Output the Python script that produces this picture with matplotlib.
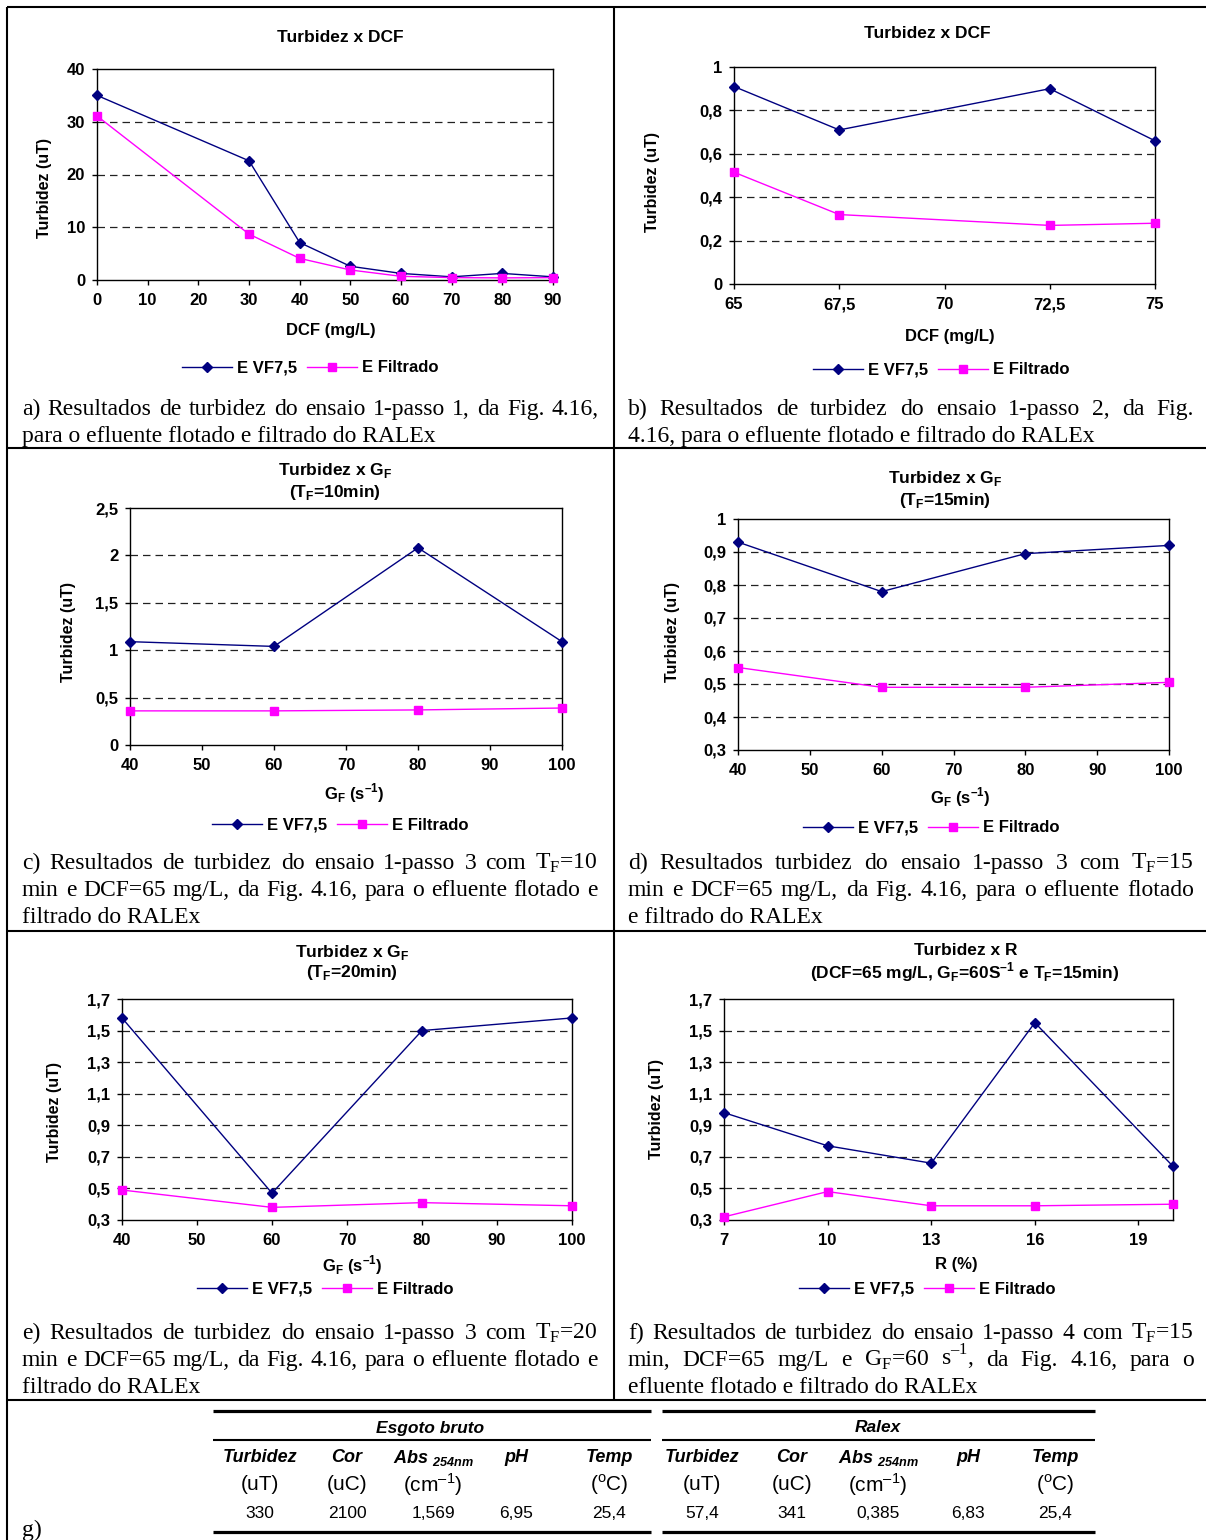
import matplotlib
matplotlib.use("Agg")
import matplotlib.pyplot as plt
import numpy as np
from matplotlib.lines import Line2D
from matplotlib.ticker import FuncFormatter

SANS = "Liberation Sans"
SERIF = "Liberation Serif"
NAVY = "#000080"
MAGENTA = "#FF00FF"

plt.rcParams.update({
    "font.family": SANS,
    "font.weight": "bold",
    "mathtext.fontset": "custom",
    "mathtext.rm": "Liberation Serif:weight=normal",
    "mathtext.bf": "Liberation Sans:weight=bold",
    "mathtext.sf": "Liberation Sans:italic:weight=bold",
    "mathtext.tt": "Liberation Sans:weight=normal",
})

# ensaio 1 - passo 1 (DCF)
dcf_a = [0, 30, 40, 50, 60, 70, 80, 90]
evf_a = [35.0, 22.6, 7.1, 2.6, 1.25, 0.6, 1.25, 0.6]
filt_a = [31.1, 8.7, 4.1, 1.9, 0.7, 0.45, 0.4, 0.45]

# ensaio 1 - passo 2 (DCF)
dcf_b = [65, 67.5, 72.5, 75]
evf_b = [0.91, 0.71, 0.90, 0.66]
filt_b = [0.515, 0.32, 0.27, 0.28]

# ensaio 1 - passo 3 (G_F) for T_F = 10, 15 and 20 min
gf = [40, 60, 80, 100]
evf_c = [1.09, 1.04, 2.08, 1.09]
filt_c = [0.36, 0.36, 0.37, 0.39]
evf_d = [0.93, 0.78, 0.895, 0.92]
filt_d = [0.55, 0.49, 0.49, 0.505]
evf_e = [1.58, 0.47, 1.50, 1.58]
filt_e = [0.49, 0.38, 0.41, 0.39]

# ensaio 1 - passo 4 (R)
r_pct = [7, 10, 13, 16, 20]
evf_f = [0.98, 0.77, 0.66, 1.55, 0.64]
filt_f = [0.32, 0.48, 0.39, 0.39, 0.40]

# characterisation table
col_heads = ["Turbidez", "Cor", r"Abs $_\mathsf{254nm}$", "pH", "Temp"]
col_units = ["(uT)", "(uC)", "(cm$^{\\mathtt{\u2013}\\mathtt{1}}$)", "",
             r"($^{\mathtt{o}}$C)"]
esgoto_vals = ["330", "2100", "1,569", "6,95", "25,4"]
ralex_vals = ["57,4", "341", "0,385", "6,83", "25,4"]

W, H = 1206, 1540
fig = plt.figure(figsize=(W / 100, H / 100), dpi=100)

SUP_BF = "$^{\\mathbf{\u2013}\\mathbf{1}}$"
SUP_RM = "$^{\\mathrm{\u2013}\\mathrm{1}}$"


def fx(x):
    return x / W


def fy(y):
    return 1 - y / H


def ftext(x, y, s, **kw):
    return fig.text(fx(x), fy(y), s, **kw)


def fline(x0, y0, x1, y1, lw=1.5):
    fig.add_artist(Line2D([fx(x0), fx(x1)], [fy(y0), fy(y1)], color="black",
                          lw=lw, transform=fig.transFigure, solid_capstyle="butt"))


def comma(v, pos):
    return ("%g" % round(v, 3)).replace(".", ",")


def panel(box, x, evf, filt, xlim, xticks, ylim, yticks, legend_xy):
    l, r, t, b = box
    ax = fig.add_axes([fx(l), fy(b), (r - l) / W, (b - t) / H])
    for v in yticks[1:-1]:
        ax.axhline(v, color="#222222", lw=0.9, ls=(0, (6, 4)), zorder=1)
    ax.plot(x, evf, color=NAVY, lw=1, marker="D", ms=4.8, zorder=3,
            clip_on=False, label="E VF7,5")
    ax.plot(x, filt, color=MAGENTA, lw=1, marker="s", ms=6, zorder=3,
            clip_on=False, label="E Filtrado")
    ax.set_xlim(xlim)
    ax.set_ylim(ylim)
    ax.set_xticks(xticks)
    ax.set_yticks(yticks)
    ax.xaxis.set_major_formatter(FuncFormatter(comma))
    ax.yaxis.set_major_formatter(FuncFormatter(comma))
    ax.tick_params(direction="out", length=3.5, width=1, pad=5,
                   labelsize=12, colors="black")
    ax.tick_params(axis="x", pad=6)
    for sp in ax.spines.values():
        sp.set_linewidth(1)
        sp.set_color("black")
    ax.legend(loc="center", bbox_to_anchor=(fx(legend_xy[0]), fy(legend_xy[1])),
              bbox_transform=fig.transFigure, ncol=2, frameon=False,
              handlelength=3.0, handletextpad=0.3, columnspacing=0.6,
              borderaxespad=0, borderpad=0,
              prop=dict(family=SANS, weight="bold", size=12))
    return ax


def caption(lines, x0, x1, y0, step=27, size=17):
    rend = fig.canvas.get_renderer()
    kw = dict(family=SERIF, weight="normal", size=size, va="baseline")
    for i, line in enumerate(lines):
        y = y0 + i * step
        if i == len(lines) - 1:
            ftext(x0, y, line, **kw)
            continue
        words = line.split(" ")
        texts = [ftext(x0, y, w, **kw) for w in words]
        widths = [t.get_window_extent(rend).width for t in texts]
        gap = (x1 - x0 - sum(widths)) / (len(words) - 1)
        xpos = x0
        for t, w in zip(texts, widths):
            t.set_x(fx(xpos))
            xpos += w + gap


title_kw = dict(family=SANS, weight="bold", size=12.5, ha="center", va="center")
label_kw = dict(family=SANS, weight="bold", size=12, ha="center", va="center")
ylab_kw = dict(family=SANS, weight="bold", size=11.5, ha="center", va="center",
               rotation=90)
gf_label = r"G$_\mathbf{F}$ (s" + SUP_BF + ")"

# a) Turbidez x DCF, passo 1
panel((97, 553, 69, 280), dcf_a, evf_a, filt_a, (0, 90), np.arange(0, 91, 10),
      (0, 40), np.arange(0, 41, 10), (310, 368))
ftext(340, 37, "Turbidez x DCF", **title_kw)
ftext(331, 331, "DCF (mg/L)", **label_kw)
ftext(45, 188, "Turbidez (uT)", **ylab_kw)
caption(["a) Resultados de turbidez do ensaio 1-passo 1, da Fig. 4.16,",
         "para o efluente flotado e filtrado do RALEx"], 22, 599, 415)

# b) Turbidez x DCF, passo 2
panel((734, 1155, 67, 284), dcf_b, evf_b, filt_b, (65, 75),
      [65, 67.5, 70, 72.5, 75], (0, 1), np.round(np.arange(0, 1.01, 0.2), 1),
      (941, 370))
ftext(927, 34, "Turbidez x DCF", **title_kw)
ftext(950, 336, "DCF (mg/L)", **label_kw)
ftext(652, 182, "Turbidez (uT)", **ylab_kw)
caption(["b) Resultados de turbidez do ensaio 1-passo 2, da Fig.",
         "4.16, para o efluente flotado e filtrado do RALEx"], 628, 1194, 415)

# c) Turbidez x G_F, T_F = 10 min
panel((130, 562, 508, 745), gf, evf_c, filt_c, (40, 100), np.arange(40, 101, 10),
      (0, 2.5), np.round(np.arange(0, 2.51, 0.5), 1), (340, 825))
ftext(335, 470, r"Turbidez x G$_\mathbf{F}$", **title_kw)
ftext(335, 492, r"(T$_\mathbf{F}$=10min)", **title_kw)
ftext(354, 793, gf_label, **label_kw)
ftext(68, 632, "Turbidez (uT)", **ylab_kw)
caption([r"c) Resultados de turbidez do ensaio 1-passo 3 com T$_\mathrm{F}$=10",
         "min e DCF=65 mg/L, da Fig. 4.16, para o efluente flotado e",
         "filtrado do RALEx"], 22, 598, 869)

# d) Turbidez x G_F, T_F = 15 min
panel((738, 1169, 519, 750), gf, evf_d, filt_d, (40, 100), np.arange(40, 101, 10),
      (0.3, 1.0), np.round(np.arange(0.3, 1.01, 0.1), 1), (931, 828))
ftext(945, 479, r"Turbidez x G$_\mathbf{F}$", **title_kw)
ftext(945, 500, r"(T$_\mathbf{F}$=15min)", **title_kw)
ftext(960, 797, gf_label, **label_kw)
ftext(673, 632, "Turbidez (uT)", **ylab_kw)
caption([r"d) Resultados turbidez do ensaio 1-passo 3 com T$_\mathrm{F}$=15",
         "min e DCF=65 mg/L, da Fig. 4.16, para o efluente flotado",
         "e filtrado do RALEx"], 628, 1194, 869)

# e) Turbidez x G_F, T_F = 20 min
panel((122, 572, 999, 1220), gf, evf_e, filt_e, (40, 100), np.arange(40, 101, 10),
      (0.3, 1.7), np.round(np.arange(0.3, 1.71, 0.2), 1), (325, 1289))
ftext(352, 952, r"Turbidez x G$_\mathbf{F}$", **title_kw)
ftext(352, 972, r"(T$_\mathbf{F}$=20min)", **title_kw)
ftext(352, 1265, gf_label, **label_kw)
ftext(54, 1112, "Turbidez (uT)", **ylab_kw)
caption([r"e) Resultados de turbidez do ensaio 1-passo 3 com T$_\mathrm{F}$=20",
         "min e DCF=65 mg/L, da Fig. 4.16, para o efluente flotado e",
         "filtrado do RALEx"], 22, 598, 1339)

# f) Turbidez x R
panel((724, 1173, 999, 1220), r_pct, evf_f, filt_f, (7, 20), [7, 10, 13, 16, 19],
      (0.3, 1.7), np.round(np.arange(0.3, 1.71, 0.2), 1), (927, 1289))
ftext(966, 951, "Turbidez x R", **title_kw)
ftext(965, 972, r"(DCF=65 mg/L, G$_\mathbf{F}$=60S" + SUP_BF
      + r" e T$_\mathbf{F}$=15min)", **title_kw)
ftext(956, 1265, "R (%)", **label_kw)
ftext(656, 1109, "Turbidez (uT)", **ylab_kw)
caption([r"f) Resultados de turbidez do ensaio 1-passo 4 com T$_\mathrm{F}$=15",
         r"min, DCF=65 mg/L e G$_\mathrm{F}$=60 s" + SUP_RM + ", da Fig. 4.16, para o",
         "efluente flotado e filtrado do RALEx"], 628, 1194, 1339)

# panel frame
fline(7, 7, 1206, 7)
fline(7, 7, 7, 1540)
fline(614, 7, 614, 1400)
for yy in (448, 931, 1400):
    fline(7, yy, 1206, yy)

# g) table
ftext(22, 1536, "g)", family=SERIF, weight="normal", size=17, va="baseline")
groups = [("Esgoto bruto", 213, 651, 430, [260, 347, 433, 516, 609], esgoto_vals),
          ("Ralex", 662, 1095, 878, [702, 792, 878, 968, 1055], ralex_vals)]
for name, x0, x1, xc, xs, vals in groups:
    fline(x0, 1411, x1, 1411, lw=2.3)
    fline(x0, 1440, x1, 1440, lw=1.5)
    fline(x0, 1532, x1, 1532, lw=2.3)
    ftext(xc, 1428, name, family=SANS, weight="bold", style="italic", size=12.5,
          ha="center", va="center")
    for x, head, unit, val in zip(xs, col_heads, col_units, vals):
        ftext(x, 1458, head, family=SANS, weight="bold", style="italic", size=13,
              ha="center", va="center")
        if unit:
            ftext(x, 1485, unit, family=SANS, weight="normal", size=15,
                  ha="center", va="center")
        ftext(x, 1513, val, family=SANS, weight="normal", size=12.5,
              ha="center", va="center")

fig.savefig("out.png", dpi=100)
